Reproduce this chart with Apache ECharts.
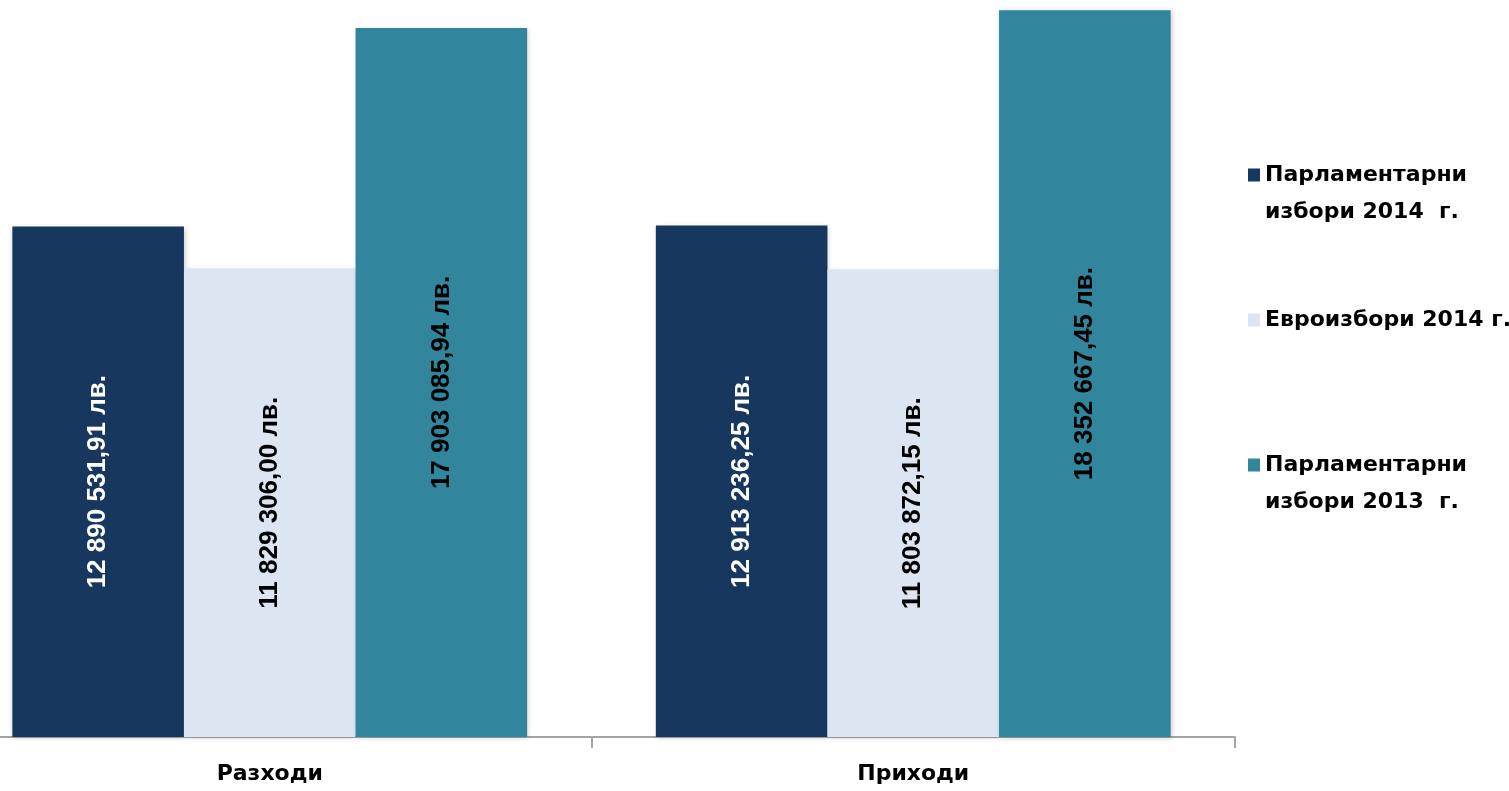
<!DOCTYPE html>
<html>
<head>
<meta charset="utf-8">
<script src="https://cdn.jsdelivr.net/npm/echarts@6/dist/echarts.min.js"></script>
<style>
html,body{margin:0;padding:0;background:#fff;}
#chart{width:1509px;height:791px;}
</style>
</head>
<body>
<div id="chart"></div>
<script>
var categories = ['Разходи', 'Приходи'];
var seriesNames = ['Парламентарни\nизбори 2014  г.', 'Евроизбори 2014 г.', 'Парламентарни\nизбори 2013  г.'];
var parl2014 = [12890531.91, 12913236.25];
var euro2014 = [11829306.00, 11803872.15];
var parl2013 = [17903085.94, 18352667.45];
var colors = ['#17375E', '#DCE6F2', '#31859C'];
var labelColors = ['#FFFFFF', '#000000', '#000000'];

function fmt(v) {
  var parts = v.toFixed(2).split('.');
  var intPart = parts[0].replace(/\B(?=(\d{3})+(?!\d))/g, ' ');
  return intPart + ',' + parts[1] + ' лв.';
}

var chart = echarts.init(document.getElementById('chart'));
var dataSets = [parl2014, euro2014, parl2013];
var series = dataSets.map(function (d, i) {
  return {
    name: seriesNames[i],
    type: 'bar',
    data: d,
    barGap: '0%',
    barCategoryGap: '20%',
    itemStyle: {
      color: colors[i],
      shadowBlur: 5,
      shadowColor: 'rgba(0,0,0,0.22)',
      shadowOffsetX: 1,
      shadowOffsetY: 1
    },
    label: {
      show: true,
      position: 'inside',
      rotate: 90,
      color: labelColors[i],
      fontFamily: 'Liberation Sans',
      fontWeight: 'bold',
      fontSize: 26,
      formatter: function (p) { return fmt(p.value); }
    }
  };
});

chart.setOption({
  animation: false,
  backgroundColor: '#ffffff',
  grid: { left: -52, right: 274, top: 0, bottom: 54, containLabel: false, outerBoundsMode: 'none' },
  legend: {
    orient: 'vertical',
    left: 1243,
    top: 114.5,
    itemWidth: 12,
    itemHeight: 13,
    itemGap: 71,
    icon: 'rect',
    formatter: function (name) {
      return name.indexOf('\n') >= 0 ? ' \n' + name : name;
    },
    textStyle: {
      fontFamily: 'DejaVu Sans',
      fontWeight: 'bold',
      fontSize: 22,
      color: '#000000',
      lineHeight: 37
    },
    data: seriesNames
  },
  xAxis: {
    type: 'category',
    data: categories,
    boundaryGap: true,
    axisLine: { show: true, lineStyle: { color: '#A6A6A6', width: 2 } },
    axisTick: { show: true, length: 11, lineStyle: { color: '#A6A6A6', width: 2 } },
    axisLabel: {
      margin: 26,
      fontFamily: 'DejaVu Sans',
      fontWeight: 'bold',
      fontSize: 22,
      color: '#000000'
    }
  },
  yAxis: {
    type: 'value',
    min: 0,
    max: 18610000,
    show: false,
    splitLine: { show: false }
  },
  series: series
});
</script>
</body>
</html>
